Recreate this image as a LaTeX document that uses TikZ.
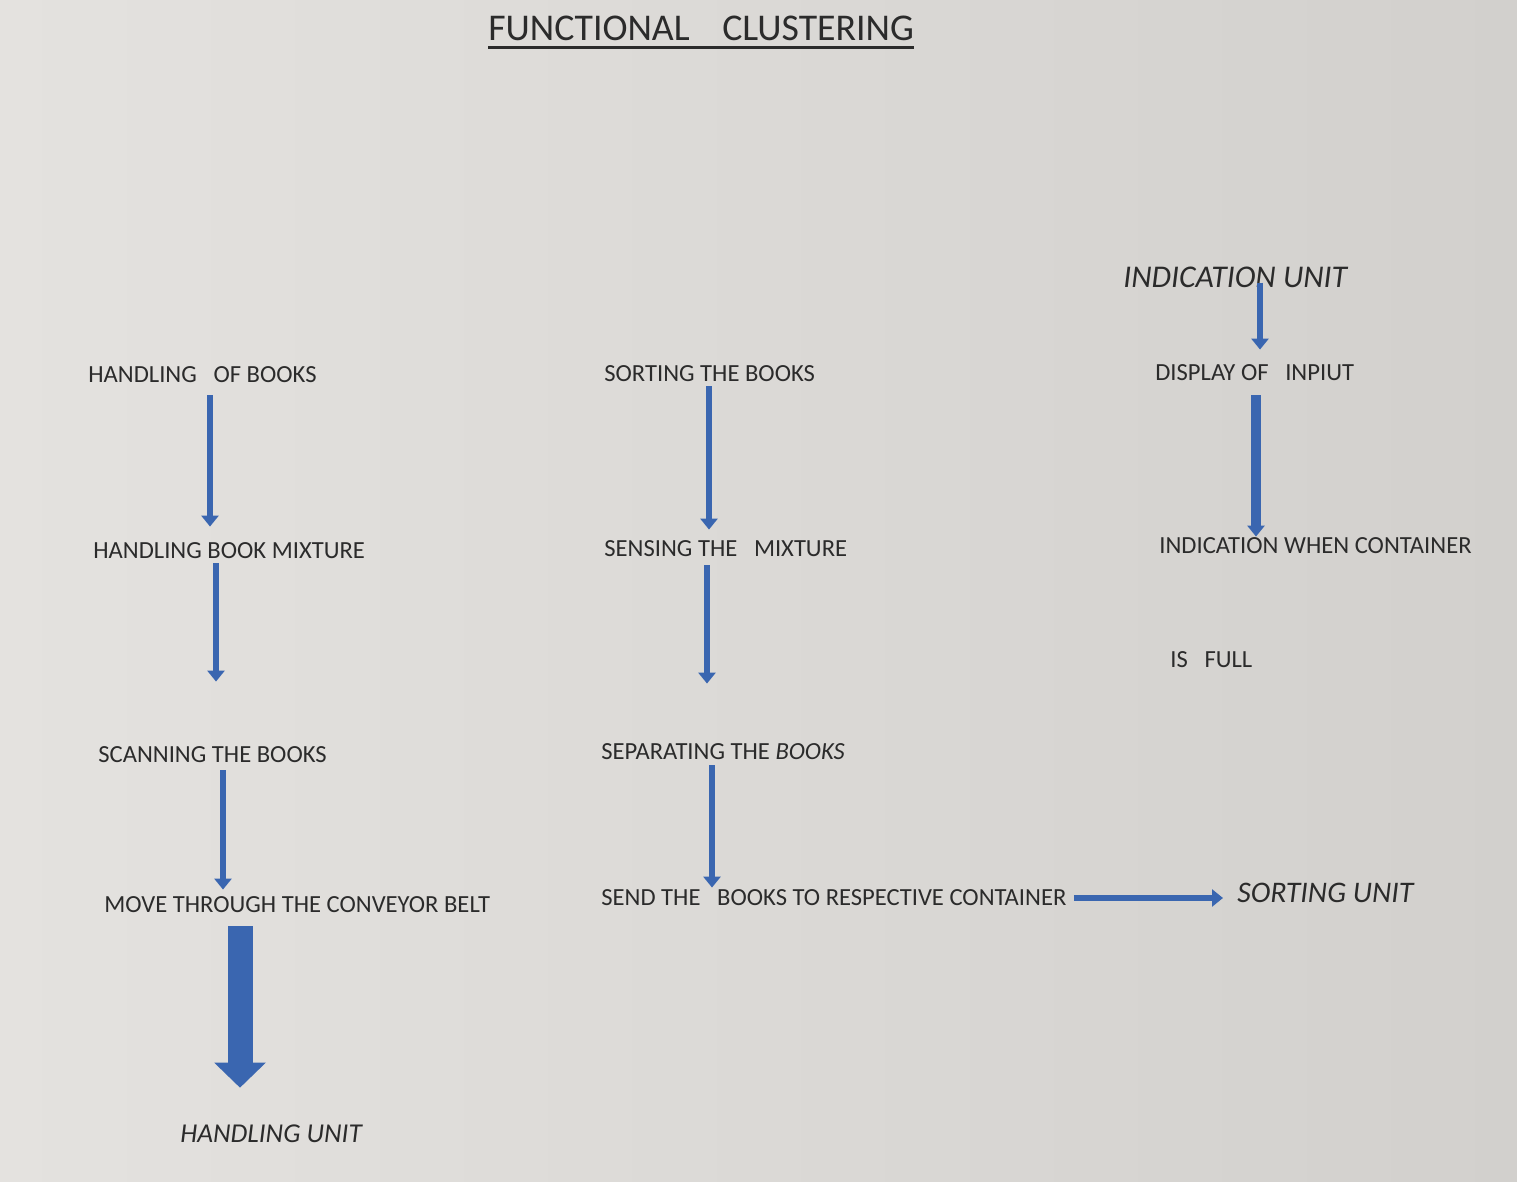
\documentclass[tikz,border=0pt]{standalone}
\usepackage{fontspec}
\setmainfont{Carlito}
\usepackage{tikz}
\usetikzlibrary{arrows.meta,positioning}
\usepackage{xcolor}
\definecolor{paper}{HTML}{E4E2DF}
\definecolor{paperdark}{HTML}{D2D0CD}
\definecolor{ink}{HTML}{2B2B2B}
\definecolor{flowblue}{HTML}{3A66B0}
\tikzset{
  every node/.style={text=ink,inner sep=0pt},
  step text/.style={anchor=west,font=\fontsize{14}{16}\selectfont},
  unit text/.style={anchor=west,font=\fontsize{#1}{20}\selectfont\itshape},
  unit text/.default=18,
  title text/.style={anchor=west,font=\fontsize{21.5}{26}\selectfont},
  flow/.style={-{Triangle[width=3.4mm,length=2.2mm]},line width=1.2mm,draw=flowblue},
  flowthick/.style={flow,line width=2mm},
  flowbig/.style={-{Triangle[width=10mm,length=5mm]},line width=5mm,draw=flowblue},
}

\begin{document}
\begin{tikzpicture}[x=0.2mm,y=-0.2mm]

% page
\shade[left color=paper,right color=paperdark] (0,0) rectangle (1517,1182);
\useasboundingbox (0,0) rectangle (1517,1182);

\node[title text] (title) at (488,28) {FUNCTIONAL\hspace{6.5mm}CLUSTERING};
\draw[ink,line width=0.55mm] ([yshift=-1.3mm]title.south west) -- ([yshift=-1.3mm]title.south east);

% handling column
\node[step text] (hob) at (88,375) {HANDLING~~~OF BOOKS};
\node[step text] (hbm) at (93,551) {HANDLING BOOK MIXTURE};
\node[step text] (scan) at (98,755) {SCANNING THE BOOKS};
\node[step text] (move) at (104,905) {MOVE THROUGH THE CONVEYOR BELT};
\node[unit text=15.5] (hunit) at (180,1134) {HANDLING UNIT};

\draw[flow,shorten <=2.4mm,shorten >=3.2mm] (hob.south -| 210,0) -- (hbm.north -| 210,0);
\draw[flow,shorten <=0.8mm,shorten >=13mm] (hbm.south -| 216,0) -- (scan.north -| 216,0);
\draw[flow,shorten <=1.4mm,shorten >=1.4mm] (scan.south -| 223,0) -- (move.north -| 223,0);
\draw[flowbig,shorten <=2.6mm,shorten >=7.4mm] (move.south -| 240,0) -- (hunit.north -| 240,0);

% sorting column
\node[step text] (sort) at (604,374) {SORTING THE BOOKS};
\node[step text] (sense) at (604,549) {SENSING THE~~~MIXTURE};
\node[step text] (sep) at (601,752) {SEPARATING THE \textit{BOOKS}};
\node[step text] (send) at (601,898) {SEND THE~~~BOOKS TO RESPECTIVE CONTAINER};
\node[unit text=17] (sunit) at (1237,893) {SORTING UNIT};

\draw[flow,shorten <=0.8mm,shorten >=2.2mm] (sort.south -| 709,0) -- (sense.north -| 709,0);
\draw[flow,shorten <=1.6mm,shorten >=12mm] (sense.south -| 707,0) -- (sep.north -| 707,0);
\draw[flow,shorten <=1mm,shorten >=0.4mm] (sep.south -| 712,0) -- (send.north -| 712,0);
\draw[flow,shorten <=1.4mm,shorten >=2.8mm] (send.east) -- (send.east -| sunit.west);

% indication column
\node[unit text] (iunit) at (1123,277) {INDICATION UNIT};
\node[step text] (disp) at (1155,373) {DISPLAY OF~~~INPIUT};
\node[step text] (full) at (1159,546) {INDICATION WHEN CONTAINER};
\node[step text] (isfull) at (1170,660) {IS~~~FULL};

\draw[flow,shorten <=-1mm,shorten >=3mm] (iunit.south -| 1260,0) -- (disp.north -| 1260,0);
\draw[flowthick,shorten <=2.8mm,shorten >=0.2mm] (disp.south -| 1256,0) -- (full.north -| 1256,0);

\end{tikzpicture}
\end{document}
